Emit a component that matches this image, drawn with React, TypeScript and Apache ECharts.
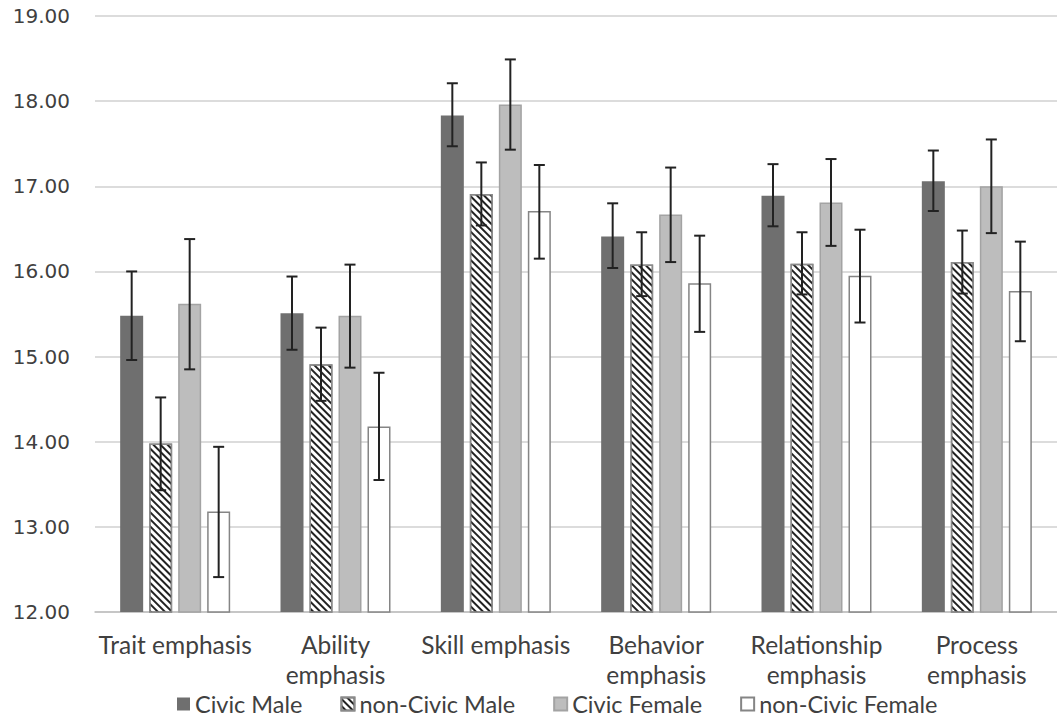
import React, { useEffect, useRef } from "react";
import * as echarts from "echarts";

const categories = [
  "Trait emphasis",
  "Ability\nemphasis",
  "Skill emphasis",
  "Behavior\nemphasis",
  "Relationship\nemphasis",
  "Process\nemphasis",
];
const seriesNames = ["Civic Male", "non-Civic Male", "Civic Female", "non-Civic Female"];

const civicMale = [15.48, 15.51, 17.83, 16.41, 16.89, 17.06];
const civicMaleLow = [14.96, 15.08, 17.47, 16.04, 16.53, 16.71];
const civicMaleHigh = [16.0, 15.94, 18.21, 16.8, 17.26, 17.42];

const nonCivicMale = [13.98, 14.91, 16.91, 16.08, 16.09, 16.11];
const nonCivicMaleLow = [13.43, 14.48, 16.54, 15.71, 15.73, 15.74];
const nonCivicMaleHigh = [14.52, 15.34, 17.28, 16.46, 16.46, 16.48];

const civicFemale = [15.62, 15.48, 17.96, 16.67, 16.81, 17.0];
const civicFemaleLow = [14.85, 14.87, 17.43, 16.11, 16.3, 16.45];
const civicFemaleHigh = [16.38, 16.08, 18.49, 17.22, 17.32, 17.55];

const nonCivicFemale = [13.18, 14.18, 16.71, 15.86, 15.95, 15.77];
const nonCivicFemaleLow = [12.41, 13.55, 16.15, 15.29, 15.4, 15.18];
const nonCivicFemaleHigh = [13.94, 14.81, 17.25, 16.42, 16.49, 16.35];

const yTicks = [12, 13, 14, 15, 16, 17, 18, 19];

const values = [civicMale, nonCivicMale, civicFemale, nonCivicFemale];
const lows = [civicMaleLow, nonCivicMaleLow, civicFemaleLow, nonCivicFemaleLow];
const highs = [civicMaleHigh, nonCivicMaleHigh, civicFemaleHigh, nonCivicFemaleHigh];

const BAR_W = 23;
const BAR_GAP = 6;

export default function App() {
  const ref = useRef<HTMLDivElement>(null);
  useEffect(() => {
    if (!ref.current) return;
    const chart = echarts.init(ref.current, null, { renderer: "svg" });
    const styles = [
      { color: "#6f6f6f", borderColor: "#6f6f6f", borderWidth: 0 },
      {
        color: "#ffffff",
        borderColor: "#8a8a8a",
        borderWidth: 1.5,
        decal: {
          symbol: "rect",
          symbolSize: 1,
          color: "#222222",
          backgroundColor: "#ffffff",
          dashArrayX: [1, 0],
          dashArrayY: [1.5, 2.8],
          rotation: Math.PI / 4,
        },
      },
      { color: "#bdbdbd", borderColor: "#a3a3a3", borderWidth: 1.5 },
      { color: "#ffffff", borderColor: "#858585", borderWidth: 1.5 },
    ];
    const barSeries = seriesNames.map((name, i) => ({
      name,
      type: "bar",
      data: values[i],
      barWidth: BAR_W,
      barGap: `${(BAR_GAP / BAR_W) * 100}%`,
      itemStyle: styles[i],
      z: 2,
    }));
    const errSeries = seriesNames.map((name, i) => ({
      name: "err-" + name,
      type: "custom",
      z: 5,
      data: categories.map((_, k) => [k, lows[i][k], highs[i][k]]),
      encode: { x: 0, y: [1, 2] },
      renderItem: (params: any, api: any) => {
        const k = api.value(0);
        const lo = api.coord([k, api.value(1)]);
        const hi = api.coord([k, api.value(2)]);
        const off = -1.5 * (BAR_W + BAR_GAP) + i * (BAR_W + BAR_GAP);
        const x = lo[0] + off;
        const cap = 5.5;
        const st = { stroke: "#222222", lineWidth: 2 };
        return {
          type: "group",
          children: [
            { type: "line", shape: { x1: x, y1: lo[1], x2: x, y2: hi[1] }, style: st },
            { type: "line", shape: { x1: x - cap, y1: lo[1], x2: x + cap, y2: lo[1] }, style: st },
            { type: "line", shape: { x1: x - cap, y1: hi[1], x2: x + cap, y2: hi[1] }, style: st },
          ],
        };
      },
    }));
    chart.setOption({
      animation: false,
      backgroundColor: "#ffffff",
      grid: { left: 95, right: 0, top: 16, bottom: 108, containLabel: false },
      legend: {
        data: seriesNames,
        bottom: -1,
        left: 172,
        icon: "rect",
        itemWidth: 13,
        itemHeight: 13,
        itemGap: 38,
        textStyle: { fontFamily: "Lato", fontSize: 23.5, color: "#404040" },
      },
      xAxis: {
        type: "category",
        data: categories,
        axisLine: { lineStyle: { color: "#bfbfbf", width: 1.5 } },
        axisTick: { show: false },
        axisLabel: {
          fontFamily: "Lato",
          fontSize: 24.5,
          color: "#404040",
          margin: 17,
          lineHeight: 30,
          interval: 0,
        },
      },
      yAxis: {
        type: "value",
        min: yTicks[0],
        max: yTicks[yTicks.length - 1],
        interval: 1,
        axisLine: { show: false },
        axisTick: { show: false },
        splitLine: { lineStyle: { color: "#d0d0d0", width: 1.5 } },
        axisLabel: {
          fontFamily: "DejaVu Sans",
          fontSize: 20,
          color: "#404040",
          margin: 25,
          formatter: (v: number) => v.toFixed(2),
        },
      },
      series: [...barSeries, ...errSeries],
    });
    return () => chart.dispose();
  }, []);
  return (
    <div
      ref={ref}
      style={{ position: "absolute", left: 0, top: 0, width: 1057, height: 720 }}
    />
  );
}
